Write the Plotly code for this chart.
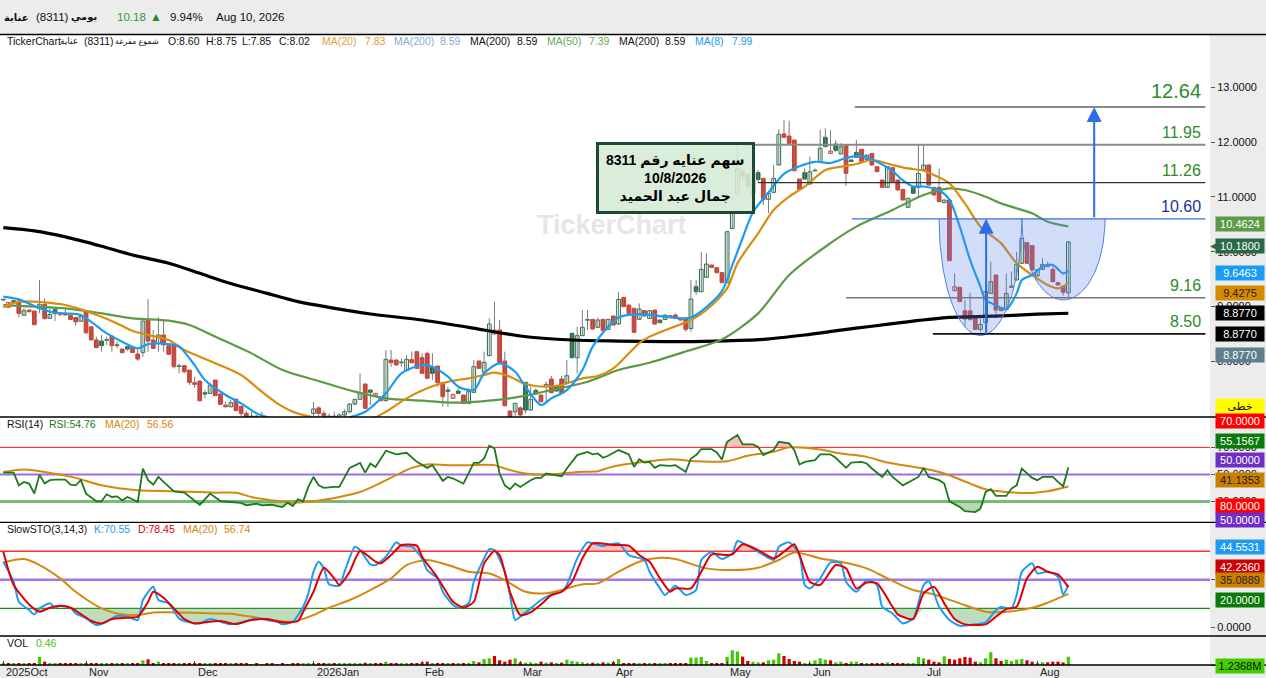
import numpy as np
import plotly.graph_objects as go

FONT = "Liberation Sans, Arial, DejaVu Sans, sans-serif"

# ---------------- data (day index 0 = first visible trading day)
open_ = [9.12, 8.985, 9.106, 9.10, 8.84, 8.936, 8.918, 8.96, 9.04, 8.785,
         8.95, 8.85, 8.875, 8.84, 8.80, 8.73, 8.92, 8.63, 8.39, 8.37,
         8.385, 8.46, 8.295, 8.224, 8.267, 8.25, 8.133, 8.163, 8.765, 8.388,
         8.327, 8.48, 8.285, 8.285, 7.914, 7.92, 7.84, 7.61, 7.64, 7.427,
         7.415, 7.658, 7.403, 7.20, 7.17, 7.31, 7.18, 7.05, 6.98, 7.00,
         6.90, 6.95, 6.87, 6.85, 6.88, 6.78, 6.82, 6.80, 6.74, 6.88,
         7.05, 7.15, 7.05, 6.95, 7.00, 6.96, 7.02, 7.08, 7.22, 7.306,
         7.586, 7.476, 7.373, 7.324, 7.282, 8.024, 8.024, 7.975, 7.83, 8.03,
         8.176, 8.066, 8.145, 7.89, 7.914, 7.616, 7.476, 7.324, 7.458, 7.385,
         7.233, 7.434, 8.005, 7.80, 8.103, 8.498, 8.571, 8.005, 7.093, 7.08,
         7.15, 7.616, 7.111, 7.47, 7.385, 7.537, 7.677, 7.549, 7.677, 7.61,
         8.51, 8.066, 8.468, 8.75, 8.766, 8.62, 8.766, 8.583, 8.827, 8.681,
         9.167, 9.027, 8.967, 8.766, 8.924, 8.784, 8.936, 8.753, 8.765, 8.832,
         8.845, 8.784, 8.784, 8.60, 9.362, 9.27, 9.532, 9.757, 9.708, 9.617,
         9.435, 10.426, 11.065, 11.46, 11.40, 11.053, 11.442, 11.338, 10.955, 11.083,
         11.582, 12.148, 12.11, 12.038, 11.326, 11.442, 11.235, 11.475, 11.643, 12.087,
         11.795, 11.965, 11.783, 11.947, 11.673, 11.813, 11.868, 11.685, 11.795, 11.551,
         11.308, 11.174, 11.533, 11.308, 11.138, 10.81, 11.174, 11.174, 11.49, 11.582,
         11.174, 11.174, 10.895, 10.943, 9.289, 9.35, 8.924, 8.92, 8.802, 8.583,
         8.705, 9.24, 9.575, 8.979, 8.948, 9.35, 9.483, 9.788, 10.165, 10.11,
         9.56, 9.678, 9.757, 9.678, 9.435, 9.374, 9.25]
high = [9.14, 9.08, 9.11, 9.10, 8.97, 8.94, 8.92, 9.48, 9.15, 9.01,
        8.95, 8.87, 8.985, 8.85, 8.80, 8.83, 8.93, 8.64, 8.45, 8.48,
        8.45, 8.47, 8.36, 8.23, 8.27, 8.25, 8.22, 8.74, 9.136, 8.57,
        8.81, 8.735, 8.29, 8.29, 7.96, 7.92, 7.84, 7.72, 7.65, 7.476,
        7.57, 7.66, 7.41, 7.263, 7.293, 7.31, 7.19, 7.10, 7.08, 7.02,
        7.08, 6.97, 6.92, 6.90, 6.90, 6.85, 6.88, 6.84, 6.90, 6.98,
        7.26, 7.18, 7.10, 7.05, 7.08, 7.05, 7.12, 7.23, 7.31, 7.78,
        7.59, 7.48, 7.42, 7.33, 8.206, 8.206, 8.03, 8.054, 8.115, 8.176,
        8.18, 8.145, 8.176, 8.145, 7.92, 7.62, 7.537, 7.40, 7.507, 7.39,
        7.507, 8.024, 8.01, 8.176, 8.784, 9.088, 8.754, 8.176, 7.10, 7.24,
        7.18, 7.62, 7.537, 7.507, 7.39, 7.628, 7.732, 7.55, 7.738, 8.024,
        8.52, 8.632, 8.936, 8.936, 8.77, 8.80, 8.77, 8.77, 8.83, 9.271,
        9.17, 9.03, 8.97, 9.058, 8.93, 8.93, 8.94, 8.76, 8.85, 8.84,
        8.875, 8.79, 8.79, 9.483, 9.483, 10.0, 9.97, 9.76, 9.71, 9.62,
        10.37, 10.71, 11.92, 11.50, 11.45, 11.52, 11.49, 11.34, 11.07, 11.58,
        12.233, 12.403, 12.39, 12.04, 11.33, 11.52, 11.734, 11.52, 12.22, 12.25,
        12.22, 12.04, 11.98, 11.95, 11.68, 12.04, 11.87, 11.77, 11.80, 11.56,
        11.31, 11.56, 11.54, 11.31, 11.14, 10.98, 11.18, 11.947, 11.947, 11.59,
        11.18, 11.52, 10.95, 10.95, 9.605, 9.36, 9.118, 9.252, 8.81, 8.784,
        9.453, 9.818, 9.58, 8.98, 9.605, 9.635, 10.0, 10.25, 10.17, 10.12,
        9.68, 9.88, 9.818, 9.727, 9.44, 9.38, 10.18]
low = [9.10, 8.98, 9.07, 8.81, 8.83, 8.90, 8.66, 8.88, 8.76, 8.78,
       8.735, 8.83, 8.84, 8.76, 8.65, 8.72, 8.51, 8.38, 8.24, 8.175,
       8.30, 8.175, 8.24, 8.15, 8.19, 8.15, 8.005, 8.084, 8.175, 8.23,
       8.175, 8.175, 8.12, 7.87, 7.78, 7.78, 7.567, 7.52, 7.27, 7.324,
       7.41, 7.37, 7.21, 7.16, 7.16, 7.09, 7.00, 6.95, 6.95, 6.88,
       6.88, 6.85, 6.80, 6.78, 6.76, 6.72, 6.78, 6.70, 6.72, 6.85,
       7.00, 6.98, 6.90, 6.88, 6.92, 6.90, 6.98, 7.05, 7.20, 7.30,
       7.14, 7.20, 7.37, 7.27, 7.27, 7.90, 7.93, 7.902, 7.82, 7.97,
       7.87, 7.77, 7.68, 7.66, 7.537, 7.172, 7.172, 7.32, 7.41, 7.23,
       7.22, 7.43, 7.86, 7.79, 8.10, 8.49, 7.97, 7.18, 6.95, 7.00,
       6.95, 7.05, 7.10, 7.40, 7.25, 7.233, 7.42, 7.45, 7.41, 7.60,
       8.06, 7.78, 8.46, 8.571, 8.58, 8.61, 8.55, 8.58, 8.66, 8.67,
       8.99, 8.87, 8.52, 8.76, 8.82, 8.78, 8.67, 8.70, 8.76, 8.79,
       8.78, 8.75, 8.54, 8.54, 9.21, 9.26, 9.52, 9.71, 9.61, 9.43,
       9.43, 10.42, 11.0, 11.3, 11.1, 10.97, 11.27, 10.85, 10.70, 11.08,
       11.58, 12.08, 11.97, 11.47, 11.13, 11.32, 11.23, 11.47, 11.64, 11.91,
       11.79, 11.82, 11.78, 11.2, 11.64, 11.72, 11.64, 11.68, 11.57, 11.45,
       11.17, 11.17, 11.27, 11.12, 10.94, 10.80, 11.06, 11.0, 11.48, 11.21,
       11.03, 10.90, 10.89, 9.83, 9.28, 9.08, 8.632, 8.75, 8.57, 8.54,
       8.70, 9.23, 8.784, 8.92, 8.94, 9.34, 9.48, 9.78, 9.78, 9.66,
       9.55, 9.67, 9.72, 9.45, 9.39, 9.20, 9.17]
close = [9.125, 9.076, 9.085, 8.875, 8.924, 8.905, 8.668, 9.04, 8.78, 8.857,
         8.87, 8.86, 8.845, 8.765, 8.72, 8.82, 8.52, 8.39, 8.25, 8.285,
         8.39, 8.285, 8.29, 8.157, 8.224, 8.16, 8.042, 8.735, 8.37, 8.236,
         8.48, 8.30, 8.127, 7.902, 7.905, 7.81, 7.616, 7.58, 7.28, 7.403,
         7.561, 7.373, 7.214, 7.17, 7.245, 7.10, 7.05, 6.98, 7.00, 6.90,
         6.95, 6.87, 6.85, 6.88, 6.78, 6.82, 6.80, 6.74, 6.88, 6.95,
         7.13, 7.05, 6.95, 7.00, 6.96, 7.02, 7.08, 7.22, 7.306, 7.416,
         7.142, 7.434, 7.416, 7.282, 8.036, 7.975, 7.933, 7.985, 8.036, 7.975,
         7.872, 7.78, 7.69, 7.78, 7.61, 7.355, 7.452, 7.397, 7.416, 7.233,
         7.446, 7.902, 7.872, 7.981, 8.681, 8.571, 7.975, 7.19, 6.99, 7.233,
         7.02, 7.111, 7.306, 7.403, 7.263, 7.58, 7.428, 7.458, 7.416, 7.738,
         8.066, 8.468, 8.62, 8.755, 8.59, 8.754, 8.559, 8.766, 8.662, 9.131,
         8.997, 8.875, 8.529, 8.954, 8.827, 8.924, 8.68, 8.705, 8.845, 8.796,
         8.784, 8.753, 8.583, 9.137, 9.27, 9.678, 9.775, 9.714, 9.617, 9.435,
         10.365, 10.70, 11.52, 11.37, 11.20, 11.308, 11.32, 10.955, 11.065, 11.338,
         12.141, 12.087, 11.977, 11.478, 11.138, 11.326, 11.46, 11.48, 11.886, 11.916,
         11.837, 11.85, 11.916, 11.43, 11.645, 11.722, 11.643, 11.764, 11.582, 11.46,
         11.174, 11.551, 11.278, 11.126, 10.943, 10.974, 11.065, 11.43, 11.582, 11.217,
         11.034, 10.913, 10.943, 9.836, 9.362, 9.088, 8.772, 8.76, 8.583, 8.674,
         9.27, 9.453, 8.936, 8.924, 9.24, 9.374, 9.769, 10.244, 9.788, 9.666,
         9.67, 9.769, 9.727, 9.453, 9.392, 9.26, 10.18]
volume_m = [0.20, 0.18, 0.22, 0.30, 0.20, 0.18, 0.25, 1.20, 0.50, 0.22,
            0.20, 0.18, 0.20, 0.18, 0.22, 0.20, 0.28, 0.25, 0.22, 0.20,
            0.18, 0.22, 0.18, 0.20, 0.18, 0.22, 0.25, 0.70, 0.85, 0.30,
            0.50, 0.25, 0.20, 0.22, 0.20, 0.18, 0.20, 0.18, 0.20, 0.18,
            0.15, 0.18, 0.15, 0.16, 0.15, 0.18, 0.15, 0.16, 0.14, 0.15,
            0.14, 0.15, 0.16, 0.14, 0.15, 0.14, 0.16, 0.15, 0.18, 0.22,
            0.25, 0.30, 0.22, 0.20, 0.28, 0.25, 0.20, 0.25, 0.22, 0.30,
            0.35, 0.25, 0.22, 0.25, 0.50, 0.30, 0.25, 0.20, 0.22, 0.25,
            0.22, 0.40, 0.50, 0.30, 0.25, 0.30, 0.22, 0.20, 0.25, 0.22,
            0.30, 0.60, 0.40, 0.90, 1.00, 1.35, 0.70, 0.50, 0.80, 1.00,
            0.40, 0.35, 0.40, 0.30, 0.50, 0.35, 0.40, 0.30, 0.35, 0.80,
            0.60, 0.50, 0.40, 0.30, 0.35, 0.30, 0.40, 0.35, 0.45, 0.90,
            0.30, 0.25, 0.30, 0.28, 0.25, 0.30, 0.25, 0.28, 0.22, 0.25,
            0.22, 0.20, 0.25, 1.10, 1.10, 1.20, 0.60, 0.30, 0.30, 0.30,
            1.20, 2.20, 2.00, 1.25, 0.60, 0.50, 0.40, 0.40, 0.70, 0.80,
            1.75, 1.35, 0.90, 0.60, 0.50, 0.25, 0.30, 0.70, 1.00, 0.80,
            0.70, 0.40, 0.50, 0.30, 0.50, 0.50, 0.30, 0.25, 0.25, 0.20,
            0.25, 0.40, 0.30, 0.30, 0.30, 0.30, 0.30, 1.20, 1.00, 0.80,
            0.50, 0.40, 1.30, 0.90, 0.80, 1.00, 1.20, 1.10, 0.50, 0.40,
            1.00, 1.90, 1.00, 0.60, 0.80, 0.60, 0.80, 0.90, 0.70, 0.50,
            0.30, 0.40, 0.40, 0.50, 0.50, 0.40, 1.2368]

month_start = [0, 16, 37, 60, 81, 100, 118, 140, 156, 178, 200]
month_label = ["2025Oct", "Nov", "Dec", "2026Jan", "Feb", "Mar", "Apr", "May", "Jun", "Jul", "Aug"]

# moving averages sampled along the chart (day, value)
ma8_day = [0, 3, 6, 9, 12, 15, 17, 20, 23, 26, 28, 32, 34, 37, 39, 43, 46, 49, 52, 56, 60, 64, 67, 70,
           74, 77, 81, 83, 86, 88, 91, 93, 96, 99, 101, 104, 106, 109, 112, 114, 117, 119, 123, 127,
           131, 133, 136, 139, 141, 143, 145, 148, 151, 154, 157, 160, 163, 166, 169, 172, 174, 176,
           178, 181, 183, 185, 187, 189, 190, 192, 194, 196, 197, 199, 201, 203, 205, 206]
ma8_val = [9.18, 9.13, 9.01, 8.905, 8.875, 8.845, 8.72, 8.51, 8.358, 8.236, 8.315, 8.315, 8.267, 7.93,
           7.658, 7.385, 7.233, 7.05, 6.96, 6.88, 6.86, 6.92, 6.98, 7.08, 7.416, 7.78, 7.933, 7.902,
           7.72, 7.537, 7.476, 7.78, 7.963, 7.81, 7.537, 7.203, 7.324, 7.476, 7.84, 8.267, 8.632, 8.80,
           8.86, 8.826, 8.784, 8.80, 8.99, 9.28, 9.75, 10.25, 10.72, 11.08, 11.42, 11.56, 11.64, 11.62,
           11.71, 11.75, 11.64, 11.47, 11.30, 11.19, 11.19, 11.12, 10.95, 10.457, 9.85, 9.362, 9.118,
           9.027, 8.948, 9.24, 9.483, 9.575, 9.727, 9.757, 9.605, 9.646]
ma20_day = [0, 3, 8, 12, 15, 19, 22, 25, 28, 32, 35, 38, 41, 46, 50, 53, 56, 60, 64, 68, 72, 74, 78,
            82, 86, 90, 93, 95, 98, 101, 105, 108, 112, 115, 118, 121, 123, 125, 127, 133, 136, 140,
            142, 146, 149, 152, 155, 159, 162, 165, 168, 172, 175, 178, 180, 183, 186, 189, 193, 196,
            199, 202, 204, 206]
ma20_val = [8.985, 9.088, 9.076, 9.027, 8.948, 8.814, 8.692, 8.553, 8.48, 8.388, 8.206, 8.084, 7.963,
            7.75, 7.446, 7.233, 7.08, 6.98, 6.93, 6.93, 6.98, 7.08, 7.324, 7.507, 7.628, 7.69, 7.75,
            7.793, 7.72, 7.586, 7.537, 7.568, 7.69, 7.732, 7.872, 8.146, 8.33, 8.45, 8.53, 8.754, 8.936,
            9.331, 9.787, 10.335, 10.76, 11.004, 11.186, 11.49, 11.551, 11.60, 11.673, 11.582, 11.52,
            11.478, 11.40, 11.247, 10.88, 10.457, 10.152, 9.788, 9.575, 9.392, 9.331, 9.428]
ma50_day = [0, 6, 12, 19, 25, 32, 36, 41, 48, 54, 61, 68, 74, 81, 87, 94, 100, 106, 113, 119, 125,
            132, 139, 146, 152, 159, 165, 172, 178, 183, 186, 190, 193, 196, 199, 202, 206]
ma50_val = [9.027, 8.997, 8.966, 8.875, 8.784, 8.741, 8.662, 8.449, 8.145, 7.841, 7.64, 7.446, 7.324,
            7.282, 7.245, 7.282, 7.355, 7.476, 7.628, 7.841, 7.975, 8.18, 8.40, 8.875, 9.575, 10.09,
            10.457, 10.76, 11.034, 11.156, 11.126, 11.004, 10.882, 10.79, 10.70, 10.548, 10.462]
ma200_day = [0, 6, 12, 19, 25, 32, 38, 44, 51, 57, 63, 71, 81, 90, 100, 110, 119, 128, 138, 147, 155,
             162, 168, 174, 183, 193, 200, 206]
ma200_val = [10.44, 10.38, 10.27, 10.10, 9.94, 9.79, 9.605, 9.42, 9.24, 9.09, 8.985, 8.863, 8.754,
             8.62, 8.462, 8.389, 8.37, 8.36, 8.37, 8.40, 8.48, 8.57, 8.64, 8.71, 8.80, 8.83, 8.86, 8.877]

rsi_day = [0, 2, 3, 4, 5, 6, 7, 8, 9, 10, 12, 13, 14, 15, 16, 18, 19, 20, 21, 22, 23, 24, 25, 26, 27,
           28, 29, 30, 31, 33, 35, 36, 38, 40, 42, 44, 46, 47, 49, 50, 52, 53, 54, 55, 56, 57, 58, 59,
           60, 61, 62, 64, 65, 67, 69, 70, 71, 72, 74, 76, 78, 80, 82, 83, 85, 86, 87, 89, 91, 92, 93,
           94, 95, 96, 97, 98, 99, 100, 102, 103, 104, 105, 108, 109, 111, 113, 114, 115, 116, 117,
           119, 121, 122, 123, 124, 125, 126, 127, 129, 130, 132, 133, 134, 135, 137, 138, 139, 140,
           142, 143, 145, 146, 147, 149, 150, 152, 153, 154, 155, 157, 158, 160, 161, 163, 164, 166,
           167, 168, 170, 171, 172, 174, 176, 177, 178, 179, 181, 182, 183, 185, 186, 188, 189, 190,
           191, 192, 194, 195, 196, 197, 199, 200, 201, 203, 204, 205, 206]
rsi_val = [51.4, 51.4, 42.0, 44.5, 43.3, 35.9, 49.9, 43.3, 45.8, 46.2, 46.2, 42.5, 42.0, 45.8, 35.9,
           30.2, 30.2, 35.4, 33.4, 33.9, 30.9, 33.4, 31.7, 29.7, 54.4, 45.8, 42.5, 48.2, 44.5, 37.6,
           36.6, 33.4, 27.7, 35.9, 30.4, 29.7, 29.0, 27.2, 28.5, 27.2, 27.7, 26.7, 26.0, 29.2, 26.7,
           31.7, 30.2, 40.8, 48.2, 42.0, 40.1, 40.8, 40.8, 54.9, 58.6, 51.4, 58.1, 55.6, 67.5, 64.8,
           66.0, 59.3, 54.9, 56.9, 45.3, 48.2, 47.0, 43.3, 58.6, 58.6, 61.8, 71.2, 69.2, 50.7, 42.0,
           39.1, 43.3, 40.8, 45.8, 47.5, 47.5, 50.7, 48.7, 54.4, 64.3, 66.7, 64.8, 65.5, 62.3, 63.8,
           68.0, 64.8, 55.6, 61.3, 58.8, 59.3, 54.9, 56.9, 56.4, 56.9, 51.9, 61.8, 64.3, 68.7, 68.7,
           66.2, 61.1, 74.1, 79.1, 72.2, 72.2, 70.4, 64.3, 68.0, 74.1, 72.9, 68.0, 57.4, 59.3, 60.6,
           64.8, 64.8, 62.3, 54.9, 58.8, 59.3, 58.1, 54.4, 48.2, 53.2, 48.2, 42.0, 45.8, 48.2, 54.9,
           48.2, 45.8, 43.3, 30.2, 26.0, 23.0, 22.3, 24.8, 37.1, 39.1, 34.2, 34.2, 39.6, 42.0, 54.4,
           47.5, 45.8, 48.2, 48.2, 44.5, 41.3, 55.2]
rsi_ma_day = [0, 4, 8, 14, 19, 26, 33, 41, 45, 48, 52, 56, 60, 65, 69, 72, 76, 79, 82, 86, 90, 95, 97,
              101, 106, 111, 115, 117, 120, 125, 129, 134, 140, 144, 149, 152, 158, 162, 167, 171, 178,
              182, 187, 190, 194, 199, 202, 206]
rsi_ma_val = [51.9, 53.7, 51.9, 47.5, 42.0, 38.3, 37.6, 36.6, 36.6, 33.4, 30.9, 29.2, 30.2, 33.4, 37.1,
              42.0, 49.5, 54.9, 57.4, 56.9, 56.9, 56.9, 54.4, 50.7, 49.9, 51.9, 52.4, 54.9, 57.4, 59.8,
              61.3, 59.8, 59.8, 63.8, 66.7, 70.0, 68.5, 65.5, 63.0, 58.8, 54.4, 50.7, 43.3, 39.1, 37.1,
              36.4, 37.6, 41.1]

k_day = [0, 2, 3, 5, 6, 7, 9, 10, 11, 13, 14, 16, 18, 20, 22, 24, 26, 27, 29, 30, 32, 34, 36, 38, 40,
         42, 44, 47, 49, 51, 53, 54, 56, 58, 59, 60, 61, 62, 63, 65, 66, 68, 69, 71, 72, 74, 76, 77, 79,
         81, 82, 84, 85, 87, 88, 90, 91, 93, 94, 95, 97, 98, 99, 100, 102, 104, 106, 108, 109, 111, 113,
         114, 116, 117, 119, 121, 124, 125, 127, 128, 130, 132, 134, 135, 137, 139, 141, 142, 144, 146,
         149, 150, 152, 154, 155, 156, 158, 160, 162, 163, 165, 167, 169, 170, 172, 174, 176, 178, 179,
         181, 183, 185, 188, 190, 192, 193, 195, 196, 197, 199, 200, 202, 204, 205, 206]
k_val = [69.0, 47.9, 26.9, 18.1, 13.6, 19.9, 25.2, 20.6, 22.7, 20.6, 14.6, 9.4, 2.4, 5.9, 11.8, 11.1,
         7.6, 28.7, 42.7, 28.7, 25.2, 9.4, 5.2, 4.1, 8.7, 5.9, 3.1, 6.6, 9.4, 7.6, 5.9, 3.1, 5.9, 21.6,
         35.7, 58.5, 69.0, 62.0, 45.2, 43.8, 58.5, 84.8, 81.3, 66.2, 65.5, 74.3, 89.4, 85.9, 84.8, 72.5,
         60.2, 51.5, 37.4, 23.4, 20.6, 25.2, 47.9, 72.5, 82.3, 81.3, 58.5, 34.0, 7.6, 11.1, 19.9, 28.7,
         34.6, 37.4, 44.5, 72.5, 89.4, 88.3, 85.5, 86.6, 88.3, 76.0, 70.8, 58.5, 40.9, 33.9, 43.8, 33.9,
         39.2, 70.8, 79.5, 71.8, 77.8, 90.8, 85.9, 79.5, 70.8, 84.8, 89.4, 76.0, 44.5, 40.9, 51.5, 68.3,
         67.3, 47.9, 37.4, 49.7, 44.5, 21.6, 14.6, 4.1, 9.4, 44.5, 48.7, 21.6, 7.6, 1.6, 3.1, 5.2, 18.1,
         21.3, 19.9, 33.9, 58.5, 67.3, 56.7, 58.5, 53.2, 34.6, 44.55]
d_day = [0, 2, 5, 7, 9, 11, 13, 15, 17, 19, 21, 24, 26, 28, 29, 31, 33, 35, 37, 39, 42, 45, 48, 51, 54,
         57, 58, 60, 62, 64, 65, 67, 69, 72, 73, 75, 77, 80, 81, 84, 87, 89, 91, 93, 95, 96, 98, 100,
         102, 104, 106, 108, 110, 112, 114, 118, 121, 123, 125, 127, 129, 130, 133, 135, 137, 140, 141,
         143, 146, 149, 151, 153, 154, 156, 158, 161, 163, 165, 167, 169, 172, 173, 176, 178, 180, 182,
         184, 186, 190, 192, 194, 196, 198, 200, 202, 204, 206]
d_val = [79.5, 44.5, 24.1, 16.4, 20.6, 22.7, 20.6, 13.9, 6.9, 4.1, 8.7, 10.1, 11.1, 26.9, 37.4, 31.1,
         19.9, 8.7, 4.1, 5.2, 6.6, 3.4, 7.6, 8.7, 5.2, 6.6, 16.4, 37.4, 62.7, 51.5, 44.5, 58.5, 80.2,
         69.0, 67.3, 76.0, 86.6, 85.9, 74.3, 52.2, 26.9, 20.6, 26.9, 67.3, 80.2, 76.0, 37.4, 12.9, 15.7,
         24.1, 33.9, 37.4, 47.9, 72.5, 88.3, 86.6, 85.9, 76.0, 69.0, 51.5, 37.4, 40.9, 40.9, 58.5, 76.7,
         76.0, 76.7, 87.3, 81.3, 72.5, 79.5, 87.3, 76.0, 47.9, 44.5, 65.5, 62.0, 40.9, 47.2, 46.2, 21.6,
         13.6, 8.7, 35.7, 42.7, 25.2, 8.7, 3.1, 3.1, 11.1, 19.2, 21.6, 51.5, 63.8, 58.5, 55.7, 42.24]
sto_ma_day = [0, 4, 7, 11, 14, 19, 22, 26, 29, 33, 41, 44, 48, 52, 56, 60, 63, 67, 71, 75, 78, 82, 86,
              90, 94, 97, 101, 105, 108, 112, 115, 119, 123, 127, 130, 136, 141, 146, 150, 153, 158, 162,
              167, 171, 176, 180, 185, 190, 194, 199, 202, 206]
sto_ma_val = [68.3, 71.8, 65.5, 51.5, 37.4, 19.9, 14.6, 12.9, 15.7, 15.7, 14.6, 14.3, 11.1, 7.6, 5.9,
              12.9, 20.6, 28.7, 39.2, 51.5, 65.5, 70.8, 65.5, 58.5, 56.7, 49.7, 37.4, 35.7, 39.2, 45.2,
              46.2, 58.5, 69.0, 73.2, 71.8, 62.0, 60.2, 62.7, 70.8, 78.8, 72.5, 69.0, 62.0, 51.5, 39.2,
              34.6, 25.2, 16.4, 16.4, 20.6, 25.9, 35.09]

# drawn objects
level_price = [12.64, 11.95, 11.26, 10.60, 9.16, 8.50]
level_start = [164.7, 143.4, 146.0, 164.1, 163.0, 179.8]
cup_start = [181.0, 197.0]
cup_end = [197.0, 213.1]
cup_bottom = [8.47, 9.12]
cup_top = 10.60
arrow_day = [190.1, 211.0]
arrow_from = [8.47, 10.60]
arrow_to = [10.60, 12.64]

tag_main = [10.4624, 10.18, 9.6463, 9.4275, 8.877, 8.877, 8.877]
tag_low = [70.0, 55.1567, 50.0, 41.1353, 80.0, 50.0, 44.5531, 42.2360, 35.0889, 20.0]
last_vol_m = 1.2368

n = len(close)
assert all(len(a) == n for a in (open_, high, low, volume_m))
days = list(range(n))

GREEN_C = "#1f6e47"
RED_C = "#d83a2b"
prev_close = [close[0]] + close[:-1]
up = [c >= p for c, p in zip(close, prev_close)]
edge = [GREEN_C if u else RED_C for u in up]
fill = ["white" if c > o else e for o, c, e in zip(open_, close, edge)]
body_base = [min(o, c) for o, c in zip(open_, close)]
body_h = [max(abs(c - o), 0.012) for o, c in zip(open_, close)]


# pixel helpers for paper-anchored decoration (plot area 0..1210 x 35..665)
def PX(x):
    return x / 1210.0


def PY(y):
    return (665.0 - y) / 630.0


fig = go.Figure()

# ---- main panel
wx, wy = [], []
for i in days:
    wx += [i, i, None]
    wy += [low[i], high[i], None]
fig.add_trace(go.Scatter(x=wx, y=wy, mode="lines", line=dict(color="#7a7a7a", width=1),
                         hoverinfo="skip", xaxis="x", yaxis="y"))
fig.add_trace(go.Bar(x=days, y=body_h, base=body_base, width=0.72,
                     marker=dict(color=fill, line=dict(color=edge, width=1)), xaxis="x", yaxis="y"))

for d, v, col, w in [(ma200_day, ma200_val, "#000000", 3.2), (ma50_day, ma50_val, "#5b9b45", 2.2),
                     (ma20_day, ma20_val, "#d98c0e", 2.2), (ma8_day, ma8_val, "#1a9cf2", 2.2)]:
    fig.add_trace(go.Scatter(x=d, y=v, mode="lines", line=dict(color=col, width=w, shape="spline", smoothing=0.8),
                             xaxis="x", yaxis="y"))

theta = np.linspace(np.pi, 2 * np.pi, 80)
for s, e, b in zip(cup_start, cup_end, cup_bottom):
    c, a = (s + e) / 2, (e - s) / 2
    fig.add_trace(go.Scatter(x=c + a * np.cos(theta), y=cup_top + (cup_top - b) * np.sin(theta),
                             mode="lines", fill="toself", fillcolor="rgba(95,135,235,0.28)",
                             line=dict(color="#4f7fe6", width=1), xaxis="x", yaxis="y"))

# ---- RSI panel
rsi_hi = [max(v, 70) for v in rsi_val]
rsi_lo = [min(v, 30) for v in rsi_val]
fig.add_trace(go.Scatter(x=rsi_day, y=[70] * len(rsi_day), mode="lines", line=dict(width=0), xaxis="x2", yaxis="y2"))
fig.add_trace(go.Scatter(x=rsi_day, y=rsi_hi, mode="lines", line=dict(width=0), fill="tonexty",
                         fillcolor="rgba(255,110,110,0.45)", xaxis="x2", yaxis="y2"))
fig.add_trace(go.Scatter(x=rsi_day, y=[30] * len(rsi_day), mode="lines", line=dict(width=0), xaxis="x2", yaxis="y2"))
fig.add_trace(go.Scatter(x=rsi_day, y=rsi_lo, mode="lines", line=dict(width=0), fill="tonexty",
                         fillcolor="rgba(90,170,90,0.45)", xaxis="x2", yaxis="y2"))
fig.add_trace(go.Scatter(x=rsi_ma_day, y=rsi_ma_val, mode="lines",
                         line=dict(color="#d4880f", width=2, shape="spline", smoothing=0.8), xaxis="x2", yaxis="y2"))
fig.add_trace(go.Scatter(x=rsi_day, y=rsi_val, mode="lines", line=dict(color="#1b7a1b", width=1.8),
                         xaxis="x2", yaxis="y2"))

# ---- SlowSTO panel
d_hi = [max(v, 80) for v in d_val]
d_lo = [min(v, 20) for v in d_val]
fig.add_trace(go.Scatter(x=d_day, y=[80] * len(d_day), mode="lines", line=dict(width=0), xaxis="x3", yaxis="y3"))
fig.add_trace(go.Scatter(x=d_day, y=d_hi, mode="lines", line=dict(width=0), fill="tonexty",
                         fillcolor="rgba(255,110,110,0.45)", xaxis="x3", yaxis="y3"))
fig.add_trace(go.Scatter(x=d_day, y=[20] * len(d_day), mode="lines", line=dict(width=0), xaxis="x3", yaxis="y3"))
fig.add_trace(go.Scatter(x=d_day, y=d_lo, mode="lines", line=dict(width=0), fill="tonexty",
                         fillcolor="rgba(90,170,90,0.4)", xaxis="x3", yaxis="y3"))
fig.add_trace(go.Scatter(x=sto_ma_day, y=sto_ma_val, mode="lines",
                         line=dict(color="#d4880f", width=2, shape="spline", smoothing=0.8), xaxis="x3", yaxis="y3"))
fig.add_trace(go.Scatter(x=k_day, y=k_val, mode="lines",
                         line=dict(color="#1e9bf0", width=2, shape="spline", smoothing=0.6), xaxis="x3", yaxis="y3"))
fig.add_trace(go.Scatter(x=d_day, y=d_val, mode="lines",
                         line=dict(color="#e00000", width=2, shape="spline", smoothing=0.6), xaxis="x3", yaxis="y3"))

# ---- volume panel
fig.add_trace(go.Bar(x=days, y=volume_m, width=0.62,
                     marker=dict(color=["#41c800" if u else "#d00000" for u in up], line=dict(width=0)),
                     xaxis="x4", yaxis="y4"))

XR = [-0.64, 233.4]
ax_common = dict(range=XR, showgrid=False, zeroline=False, showticklabels=False, showline=False)
yc = dict(side="right", showgrid=False, zeroline=False, ticks="outside", ticklen=4, tickcolor="#555",
          tickfont=dict(family=FONT, size=11, color="#111"), tickformat=".4f", automargin=False)

fig.update_layout(
    width=1266, height=678, margin=dict(l=0, r=56, t=35, b=13),
    paper_bgcolor="#ececec", plot_bgcolor="white", showlegend=False, barmode="overlay",
    xaxis=dict(anchor="y", **ax_common),
    xaxis2=dict(anchor="y2", matches="x", **ax_common),
    xaxis3=dict(anchor="y3", matches="x", **ax_common),
    xaxis4=dict(anchor="y4", matches="x", range=XR, showgrid=False, zeroline=False, showticklabels=False,
                ticks="inside", ticklen=4, tickcolor="#444", tickvals=month_start),
    yaxis=dict(domain=[PY(417), 1], range=[6.984, 13.954], tickvals=[8, 9, 10, 11, 12, 13], **yc),
    yaxis2=dict(domain=[PY(522.3), PY(417)], range=[14.74, 92.4], tickvals=[30, 50, 70], **yc),
    yaxis3=dict(domain=[PY(636), PY(522.3)], range=[-9.16, 110.5], tickvals=[0, 50], **yc),
    yaxis4=dict(domain=[0, PY(636)], range=[0, 4.32], side="right", showgrid=False, zeroline=False,
                ticks="outside", ticklen=4, tickcolor="#555", tickvals=[0], ticktext=["0M"],
                tickfont=dict(family=FONT, size=11, color="#111")),
)

shapes = []
for y in [34.5, 417, 522.3, 636, 665]:
    shapes.append(dict(type="line", xref="paper", yref="paper", x0=0, x1=1266 / 1210, y0=PY(y), y1=PY(y),
                       line=dict(color="#000", width=1.3)))
shapes += [
    dict(type="line", xref="paper", yref="y2", x0=0, x1=1, y0=70, y1=70, line=dict(color="#ff1a1a", width=1), layer="below"),
    dict(type="line", xref="paper", yref="y2", x0=0, x1=1, y0=50, y1=50, line=dict(color="#9a6fe0", width=2.2), layer="below"),
    dict(type="line", xref="paper", yref="y2", x0=0, x1=1, y0=30, y1=30, line=dict(color="#79bb79", width=3), layer="below"),
    dict(type="line", xref="paper", yref="y3", x0=0, x1=1, y0=80, y1=80, line=dict(color="#ff3030", width=1.4), layer="below"),
    dict(type="line", xref="paper", yref="y3", x0=0, x1=1, y0=50, y1=50, line=dict(color="#a478e6", width=2.5), layer="below"),
    dict(type="line", xref="paper", yref="y3", x0=0, x1=1, y0=20, y1=20, line=dict(color="#1a8a1a", width=1.2), layer="below"),
]
level_style = [("#8a8a8a", 2), ("#8a8a8a", 2), ("#333333", 1.2), ("#3d6ee0", 1.2), ("#777777", 1.6), ("#111111", 1.6)]
for p, s, (col, w) in zip(level_price, level_start, level_style):
    shapes.append(dict(type="line", xref="x", yref="y", x0=s, x1=232.5, y0=p, y1=p, line=dict(color=col, width=w)))
fig.update_layout(shapes=shapes)


def note(text, x, y, size=11, color="#111", anchor="left", **kw):
    fig.add_annotation(xref="paper", yref="paper", x=PX(x), y=PY(y), text=text, showarrow=False,
                       xanchor=anchor, yanchor="middle", font=dict(family=FONT, size=size, color=color), **kw)


# header
note("<b>عناية</b>", 31, 17, 10, anchor="right")
note("(8311)", 34, 17, 11.5)
note("<b>يومي</b>", 100, 17, 10, anchor="right")
note("10.18", 115, 17, 11.5, "#2e9a2e")
note("▲", 156, 17, 12, "#1f8f1f", anchor="center")
note("9.94%", 168, 17, 11.5)
note("Aug 10, 2026", 214, 17, 11.5)

# info bar
note("TickerChart", 5, 41.5, 10.5)
note("عناية", 80, 41.5, 9, anchor="right")
note("(8311)", 82, 41.5, 10.5)
note("شموع مفرغة", 161, 41.5, 8, anchor="right")
info = [("O:8.60", 166, "#111"), ("H:8.75", 204, "#111"), ("L:7.85", 240, "#111"), ("C:8.02", 277, "#111"),
        ("MA(20)", 320, "#e39b3a"), ("7.83", 363, "#e39b3a"), ("MA(200)", 392, "#86aad3"), ("8.59", 438, "#86aad3"),
        ("MA(200)", 468, "#111"), ("8.59", 515, "#111"), ("MA(50)", 545, "#66aa55"), ("7.39", 587, "#66aa55"),
        ("MA(200)", 617, "#111"), ("8.59", 663, "#111"), ("MA(8)", 693, "#1a9cf2"), ("7.99", 730, "#1a9cf2")]
for t, x, c in info:
    note(t, x, 41.5, 10.5, c)

# panel titles
for t, x, c in [("RSI(14)", 5, "#111"), ("RSI:54.76", 47, "#1b7a1b"), ("MA(20)", 103, "#d4880f"), ("56.56", 145, "#d4880f")]:
    note(t, x, 424, 10.5, c)
for t, x, c in [("SlowSTO(3,14,3)", 5, "#111"), ("K:70.55", 92, "#1e9bf0"), ("D:78.45", 136, "#e00000"),
                ("MA(20)", 181, "#d4880f"), ("56.74", 222, "#d4880f")]:
    note(t, x, 529, 10.5, c)
for t, x, c in [("VOL", 5, "#111"), ("0.46", 34, "#41c800")]:
    note(t, x, 643, 10.5, c)

# month labels
for d, lab in zip(month_start, month_label):
    fig.add_annotation(xref="x", yref="paper", x=d, y=PY(671.5), text=lab, showarrow=False, xanchor="left",
                       yanchor="middle", xshift=1, font=dict(family=FONT, size=11, color="#222"))

# watermark + note box
note("<b>TickerChart</b>", 612, 225, 27, "#e6e6e6", anchor="center")
note("<b>سهم عنايه رقم 8311</b><br><b>10/8/2026</b><br><b>جمال عبد الحميد</b>", 675, 178, 14, "#000",
     anchor="center", bgcolor="rgba(213,235,213,0.88)", bordercolor="#1d4a37", borderwidth=3, borderpad=7)

# level labels
for p, big in zip(level_price, [True, False, False, False, False, False]):
    fig.add_annotation(xref="x", yref="y", x=232, y=p, text=f"{p:.2f}", showarrow=False, xanchor="right",
                       yanchor="bottom", yshift=3 if big else 2,
                       font=dict(family=FONT, size=20 if big else 16, color="#1c2f9c" if p == 10.60 else "#2b8a2b"))

# arrows
for d, a, b in zip(arrow_day, arrow_from, arrow_to):
    fig.add_annotation(xref="x", yref="y", axref="x", ayref="y", x=d, y=b, ax=d, ay=a, text="",
                       showarrow=True, arrowhead=2, arrowsize=1.5, arrowwidth=2, arrowcolor="#2f6de6")


# right-hand value tags
def tag(text, y, bg, fg="white"):
    fig.add_annotation(xref="paper", yref="paper", x=PX(1240), y=PY(y), text=text, showarrow=False,
                       xanchor="center", yanchor="middle", bgcolor=bg, width=46, height=12, borderpad=1,
                       font=dict(family=FONT, size=11, color=fg))


main_tag_y = [223.5, 245.5, 272.5, 292.5, 313, 333.5, 355]
main_tag_bg = ["#5b9b45", "#2a6a48", "#1a9cf2", "#d68a00", "#000000", "#000000", "#5f7f8c"]
for v, y, bg in zip(tag_main, main_tag_y, main_tag_bg):
    tag(f"{v:.4f}", y, bg, "#222" if bg == "#d68a00" else "white")
note("◀", 1214, 245.5, 10, "#2a6a48", anchor="center")

tag("خطي", 405.5, "#ffff00", "#111")
low_tag_y = [420.5, 441, 460, 480.5, 506, 520, 546.5, 566.5, 579.5, 600]
low_tag_bg = ["#ff0000", "#0a7a0a", "#6f2fc4", "#c98000", "#ff0000", "#6f2fc4", "#1e9bf0", "#cc0000", "#c98000", "#0a7a0a"]
for v, y, bg in zip(tag_low, low_tag_y, low_tag_bg):
    tag(f"{v:.4f}", y, bg, "#222" if bg == "#c98000" else "white")
tag(f"{last_vol_m:.4f}M", 666, "#44cc00", "#111")

fig.write_html("out.html", config={"displayModeBar": False},
               post_script="document.body.style.margin='0';document.body.style.overflow='hidden';")
